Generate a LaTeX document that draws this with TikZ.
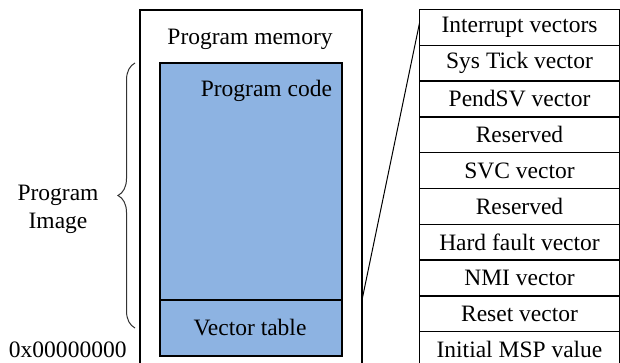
\documentclass[tikz,border=0pt]{standalone}
\usepackage{fontspec}
\setmainfont{Liberation Serif}
\usetikzlibrary{calc,decorations.pathreplacing}
\definecolor{codeblue}{RGB}{141,179,226}
\begin{document}
\begin{tikzpicture}[x=1pt,y=-1pt,
  every node/.style={font=\fontsize{23.5}{28}\selectfont, inner sep=0pt, outer sep=0pt},
  box/.style={draw=black, line width=1.3pt},
  bluebox/.style={box, fill=codeblue, minimum width=182pt},
  row/.style={box, minimum width=200pt, minimum height=35.8pt},
  lbl/.style={text=black}]
\useasboundingbox (0,0) rectangle (620,363);
\clip (0,0) rectangle (620,363);
\fill[white] (0,0) rectangle (620,363);
% outer program memory box
\node[box, minimum width=222pt, minimum height=370pt] (outer) at (251,195) {};
\node[bluebox, minimum height=237pt] (code) at (251,181.5) {};
\node[bluebox, minimum height=56pt] (vt) at (251,328) {};
\node[lbl, anchor=base] (pm) at (250,45) {Program memory};
\node[lbl, anchor=base east] (pc) at (332,97) {Program code};
\node[lbl, anchor=base] (vtl) at (250,335) {Vector table};
% table
\foreach \i/\t in {1/Interrupt vectors,2/Sys Tick vector,3/PendSV vector,4/Reserved,5/SVC vector,6/Reserved,7/Hard fault vector,8/NMI vector,9/Reset vector,10/Initial MSP value}{
  \node[row] (r\i) at (519.5,{9.5+35.8*(\i-0.5)}) {\t};
}
% connector
\coordinate (lt) at ($(r1.north west)!0.38!(r1.south west)$);
\coordinate (lb) at (outer.east |- vt.north);
\draw[line width=1pt] (lt) -- (lb);
% brace
\coordinate (bt) at (135,63);
\coordinate (bb) at (135,328);
\draw[line width=1pt, black!80, decorate, decoration={brace, amplitude=17pt}] (bb) -- (bt);
\node[lbl, align=center] (pi) at (58,209) {Program\\Image};
\node[lbl, anchor=base west] (addr) at (9,357) {0x00000000};
\end{tikzpicture}
\end{document}
